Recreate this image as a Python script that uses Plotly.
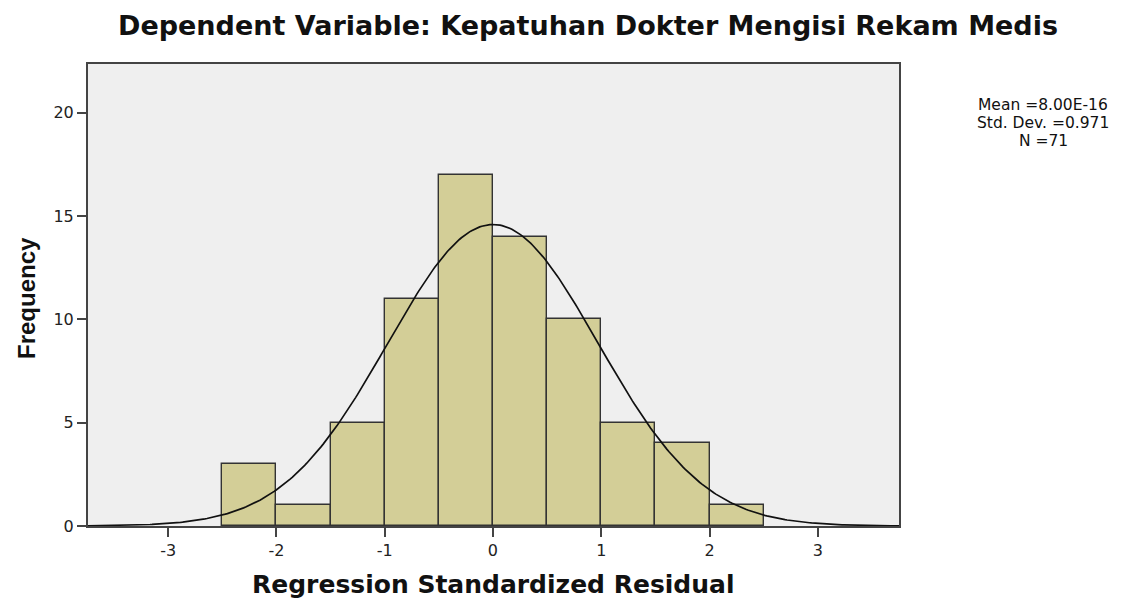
import numpy as np
import plotly.graph_objects as go

# Data
bin_edges = [-2.5, -2.0, -1.5, -1.0, -0.5, 0.0, 0.5, 1.0, 1.5, 2.0, 2.5]
frequencies = [3, 1, 5, 11, 17, 14, 10, 5, 4, 1]
mean_val = 8.00e-16
std_dev = 0.971
n_obs = 71
x_ticks = [-3, -2, -1, 0, 1, 2, 3]
y_ticks = [0, 5, 10, 15, 20]
stats_lines = ["Mean =8.00E-16", "Std. Dev. =0.971", "N =71"]

centers = [(bin_edges[i] + bin_edges[i + 1]) / 2 for i in range(len(frequencies))]
width = bin_edges[1] - bin_edges[0]

# Fitted normal curve scaled to the histogram
xs = np.linspace(-3.75, 3.75, 400)
ys = n_obs * width * np.exp(-0.5 * ((xs - mean_val) / std_dev) ** 2) / (std_dev * np.sqrt(2 * np.pi))

# page offset compensation (browser body margin)
OFF = 7
L, T, R, B = 87 - OFF, 63 - OFF, 1138 - (898 - OFF), 601 - (525 - OFF)
PW, PH = 1138 - L - R, 601 - T - B


def px_to_paper(x, y):
    return ((x - OFF - L) / PW, (601 - B - (y - OFF)) / PH)


fig = go.Figure()
fig.add_trace(go.Bar(
    x=centers, y=frequencies, width=width,
    marker=dict(color="#D3CE97", line=dict(color="#333333", width=1.4)),
    showlegend=False, hoverinfo="x+y",
))
fig.add_trace(go.Scatter(
    x=xs, y=ys, mode="lines",
    line=dict(color="#111111", width=1.7),
    showlegend=False, hoverinfo="skip",
))

annotations = []
for i, line in enumerate(stats_lines):
    ax, ay = px_to_paper(1042, 104 + 18 * i)
    annotations.append(dict(
        text=line, xref="paper", yref="paper", x=ax, y=ay,
        xanchor="center", yanchor="middle", showarrow=False,
        height=16, borderpad=0, valign="middle",
        font=dict(size=15.5, color="#111111", family="DejaVu Sans"),
    ))
tx, ty = px_to_paper(492, 583)
annotations.append(dict(
    text="<b>Regression Standardized Residual</b>", xref="paper", yref="paper", x=tx, y=ty,
    xanchor="center", yanchor="middle", showarrow=False,
    font=dict(size=25, color="#111111", family="DejaVu Sans"),
))
fx, fy = px_to_paper(25, 297)
annotations.append(dict(
    text="<b>Frequency</b>", xref="paper", yref="paper", x=fx, y=fy, textangle=-90,
    xanchor="center", yanchor="middle", showarrow=False,
    font=dict(size=24, color="#111111", family="Liberation Sans Narrow, Arial Narrow, Liberation Sans"),
))

fig.update_layout(
    width=1138, height=601,
    margin=dict(l=L, r=R, t=T, b=B),
    paper_bgcolor="white",
    plot_bgcolor="#EFEFEF",
    bargap=0,
    font=dict(family="DejaVu Sans", color="#222222"),
    title=dict(
        text="<b>Dependent Variable: Kepatuhan Dokter Mengisi Rekam Medis</b>",
        x=(587 - OFF) / 1138, xanchor="center", y=1 - (25 - OFF) / 601, yanchor="middle", yref="container",
        font=dict(size=27, color="#111111", family="DejaVu Sans"),
    ),
    xaxis=dict(
        range=[-3.74, 3.75], tickvals=x_ticks, ticktext=[str(v) for v in x_ticks],
        showgrid=False, zeroline=False,
        showline=True, linecolor="#444444", linewidth=2, mirror=True,
        ticks="outside", ticklen=9, tickwidth=2, tickcolor="#444444",
        tickfont=dict(size=16, color="#222222"),
    ),
    yaxis=dict(
        range=[0, 22.35], tickvals=y_ticks,
        showgrid=False, zeroline=False,
        showline=True, linecolor="#444444", linewidth=2, mirror=True,
        ticks="outside", ticklen=9, tickwidth=2, tickcolor="#444444",
        tickfont=dict(size=16, color="#222222"),
    ),
    annotations=annotations,
)

fig.write_html("out.html")
